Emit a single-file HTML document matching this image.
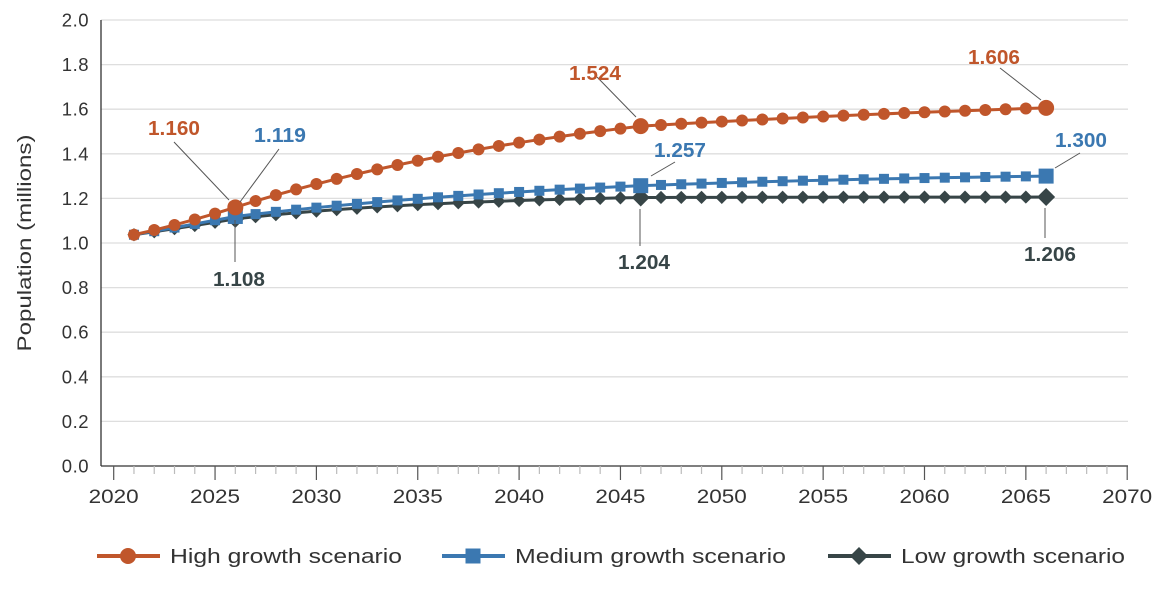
<!DOCTYPE html>
<html><head><meta charset="utf-8"><style>
html,body{margin:0;padding:0;background:#fff}
svg text{font-family:"Liberation Sans",sans-serif}
</style></head><body>
<svg id="s" width="1170" height="589" xmlns="http://www.w3.org/2000/svg"></svg>
<script>
const s=document.getElementById('s');let h='';
const X=y=>113.7+(y-2020)*20.27, Y=v=>466-v*223;
for(let i=0;i<=10;i++){const v=i*0.2,y=Y(v);
 if(i>0)h+=`<line x1="101" x2="1128" y1="${y}" y2="${y}" stroke="#dedede" stroke-width="1.3"/>`;
 h+=`<text x="89" y="${y+6.5}" font-size="18.5" fill="#333" text-anchor="end" letter-spacing="0.5">${v.toFixed(1)}</text>`;}
h+=`<line x1="101" x2="101" y1="20" y2="466" stroke="#333" stroke-width="1.3"/>`;
h+=`<line x1="101" x2="1128" y1="466" y2="466" stroke="#333" stroke-width="1.3"/>`;
for(let yr=2020;yr<=2070;yr++){const x=X(yr),maj=yr%5==0;
 h+=`<line x1="${x}" x2="${x}" y1="466" y2="${maj?480:474}" stroke="${maj?'#555':'#bbb'}" stroke-width="1.2"/>`;
 if(maj)h+=`<text x="${x}" y="503" font-size="19" fill="#333" text-anchor="middle" textLength="50" lengthAdjust="spacingAndGlyphs">${yr}</text>`;}
h+=`<text transform="translate(31,243) rotate(-90)" font-size="19" fill="#333" text-anchor="middle" textLength="217" lengthAdjust="spacingAndGlyphs">Population (millions)</text>`;
function series(v26,v46,v66,s0,k,s2){const a=[];for(let t=2021;t<=2066;t++){let v;
 if(t<=2026){const d=t-2021,b=(s0*5-(v26-1.037))/25,aa=s0-10*b;v=1.037+aa*d+b*d*d;}
 else if(t<=2046){const d=t-2026;v=v26+(v46-v26)*(1-Math.exp(-k*d))/(1-Math.exp(-20*k));}
 else{const d=t-2046;v=v46+(v66-v46)*(1-Math.exp(-s2*d))/(1-Math.exp(-20*s2));}
 a.push([X(t),Y(v)]);}return a;}
const hi=series(1.160,1.524,1.606,0.029,0.05,0.03);
const me=series(1.119,1.257,1.300,0.017,0.05,0.05);
const lo=series(1.108,1.204,1.206,0.015,0.09,0.1);
const C1='#c0562b',C2='#3b78b1',C3='#374547';
function mk(type,x,y,r,c){if(type==0)return `<circle cx="${x}" cy="${y}" r="${r}" fill="${c}"/>`;
 if(type==1)return `<rect x="${x-r}" y="${y-r}" width="${2*r}" height="${2*r}" fill="${c}"/>`;
 return `<polygon points="${x},${y-r*1.2} ${x+r*1.2},${y} ${x},${y+r*1.2} ${x-r*1.2},${y}" fill="${c}"/>`;}
function draw(p,c,type,r,R){h+=`<polyline points="${p.map(q=>q.join(',')).join(' ')}" fill="none" stroke="${c}" stroke-width="3"/>`;
 p.forEach((q,i)=>{const big=(i==5||i==25||i==45);h+=mk(type,q[0],q[1],big?R:r,c);});}
draw(lo,C3,2,5.5,7.5);draw(me,C2,1,5,7.5);draw(hi,C1,0,6,8);
const L=(x1,y1,x2,y2)=>h+=`<line x1="${x1}" y1="${y1}" x2="${x2}" y2="${y2}" stroke="#555" stroke-width="1"/>`;
L(174,142,229,200);L(279,149,240,202);L(235,220,235,262);
L(597,77,636,117);L(675,162,651,176);L(640,209,640,246);
L(1000,68,1041,100);L(1080,153,1055,168);L(1045,208,1045,238);
const T=(x,y,t,c)=>h+=`<text x="${x}" y="${y}" font-size="20" font-weight="bold" fill="${c}" text-anchor="middle" textLength="52" lengthAdjust="spacingAndGlyphs">${t}</text>`;
T(174,135,'1.160',C1);T(280,142,'1.119',C2);T(239,286,'1.108',C3);
T(595,80,'1.524',C1);T(680,157,'1.257',C2);T(644,269,'1.204',C3);
T(994,64,'1.606',C1);T(1081,147,'1.300',C2);T(1050,261,'1.206',C3);
const leg=[[97,C1,0,'High growth scenario',232],[442,C2,1,'Medium growth scenario',271],[828,C3,2,'Low growth scenario',224]];
leg.forEach(([x,c,t,l,w])=>{h+=`<line x1="${x}" x2="${x+63}" y1="556" y2="556" stroke="${c}" stroke-width="4"/>`;
 h+=mk(t,x+31,556,t==0?8:7.5,c);h+=`<text x="${x+73}" y="563" font-size="20" fill="#333" textLength="${w}" lengthAdjust="spacingAndGlyphs">${l}</text>`;});
s.innerHTML=h;
</script>
</body></html>
